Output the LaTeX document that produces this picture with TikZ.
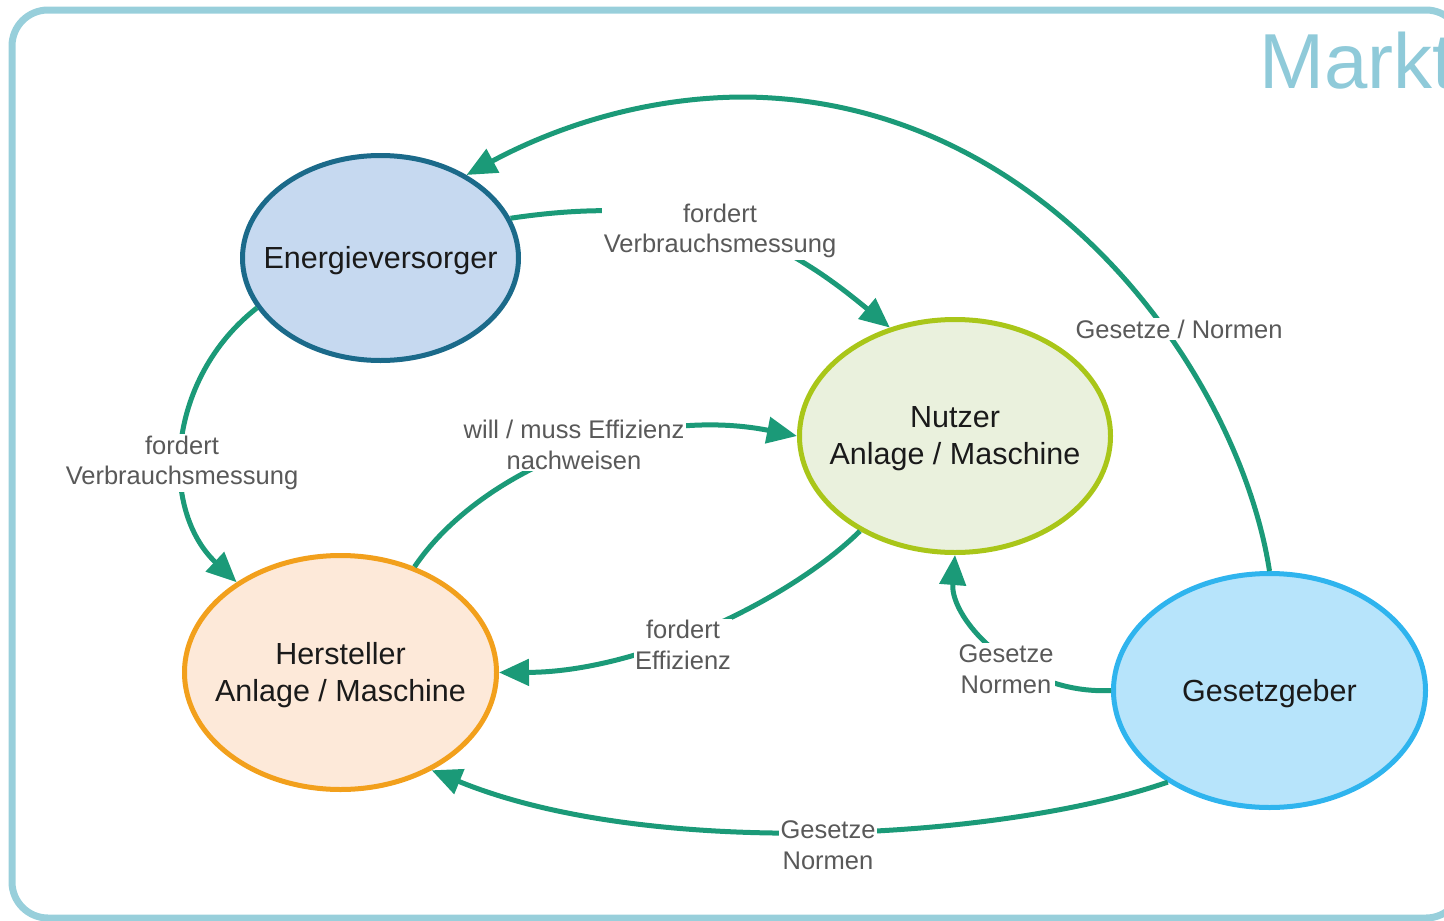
\documentclass[tikz,border=0pt]{standalone}
\usepackage{fontspec}
\setmainfont{Liberation Sans}
\usetikzlibrary{shapes.geometric,arrows.meta}
\definecolor{framecol}{HTML}{98CFDB}
\definecolor{marktcol}{HTML}{8FCAD9}
\definecolor{flowcol}{HTML}{1B9A78}
\definecolor{lblcol}{HTML}{595959}
\definecolor{nodetext}{HTML}{1A1A1A}
\definecolor{evline}{HTML}{1B6A8A}
\definecolor{evfill}{HTML}{C6D9F0}
\definecolor{nuline}{HTML}{A9C619}
\definecolor{nufill}{HTML}{EAF1DD}
\definecolor{heline}{HTML}{F2A01C}
\definecolor{hefill}{HTML}{FDE9D9}
\definecolor{ggline}{HTML}{2FB4EE}
\definecolor{ggfill}{HTML}{B7E4FB}
\begin{document}
\begin{tikzpicture}[x=1pt,y=1pt,
  actor/.style={ellipse, draw, line width=5pt, inner sep=0pt},
  actortext/.style={font=\fontsize{30.5}{37}\selectfont, text=nodetext, align=center, yshift=-3pt},
  flow/.style={draw=flowcol, line width=5pt, -{Triangle[length=30pt,width=26pt]}},
  lbl/.style={fill=white, inner sep=1.5pt, font=\fontsize{25.5}{30.5}\selectfont, text=lblcol, align=center}]
\useasboundingbox (0,0) rectangle (1444,-921);
\clip (0,0) rectangle (1444,-921);

% outer frame and title
\draw[framecol, line width=7pt, rounded corners=36pt] (12,-10) rectangle (1462,-918);
\node[anchor=base west, inner sep=0pt, font=\fontsize{78}{78}\selectfont, text=marktcol] (markt) at (1259,-88) {Markt};

% actors
\node[actor, draw=evline, fill=evfill, minimum width=276pt, minimum height=205pt,
      label={[actortext]center:Energieversorger}] (ev) at (380.5,-258) {};
\node[actor, draw=nuline, fill=nufill, minimum width=311pt, minimum height=233pt,
      label={[actortext]center:{Nutzer\\Anlage / Maschine}}] (nu) at (955,-436) {};
\node[actor, draw=heline, fill=hefill, minimum width=312pt, minimum height=234pt,
      label={[actortext]center:{Hersteller\\Anlage / Maschine}}] (he) at (340.5,-672.5) {};
\node[actor, draw=ggline, fill=ggfill, minimum width=312pt, minimum height=234pt,
      label={[actortext]center:Gesetzgeber}] (gg) at (1269.5,-690.5) {};

% relations
\draw[flow] (gg.north) .. controls (1240,-380) and (1050,-100) .. (745,-97)
            .. controls (640,-97) and (550,-130) .. (ev.44);
\draw[flow] (ev.17) .. controls (700,-190) and (790,-245) .. (nu.121);
\draw[flow] (ev.202) .. controls (165,-380) and (160,-510) .. (he.139);
\draw[flow] (he.55) .. controls (480,-470) and (640,-405) .. (nu.west);
\draw[flow] (nu.225) .. controls (790,-600) and (640,-672) .. (he.east);
\draw[flow] (gg.west) .. controls (1020,-695) and (950,-620) .. (nu.south);
\draw[flow] (gg.222) .. controls (1000,-840) and (650,-860) .. (he.313);

% relation labels
\node[lbl] (l1) at (1179,-329) {Gesetze / Normen};
\node[lbl] (l2) at (720,-231) {fordert\\Verbrauchsmessung};
\node[lbl] (l3) at (182,-463) {fordert\\Verbrauchsmessung};
\node[lbl] (l4) at (574,-445) {will / muss Effizienz\\nachweisen};
\node[lbl] (l5) at (683,-645) {fordert\\Effizienz};
\node[lbl] (l6) at (1006,-669) {Gesetze\\Normen};
\node[lbl] (l7) at (828,-845) {Gesetze\\Normen};
\end{tikzpicture}
\end{document}
